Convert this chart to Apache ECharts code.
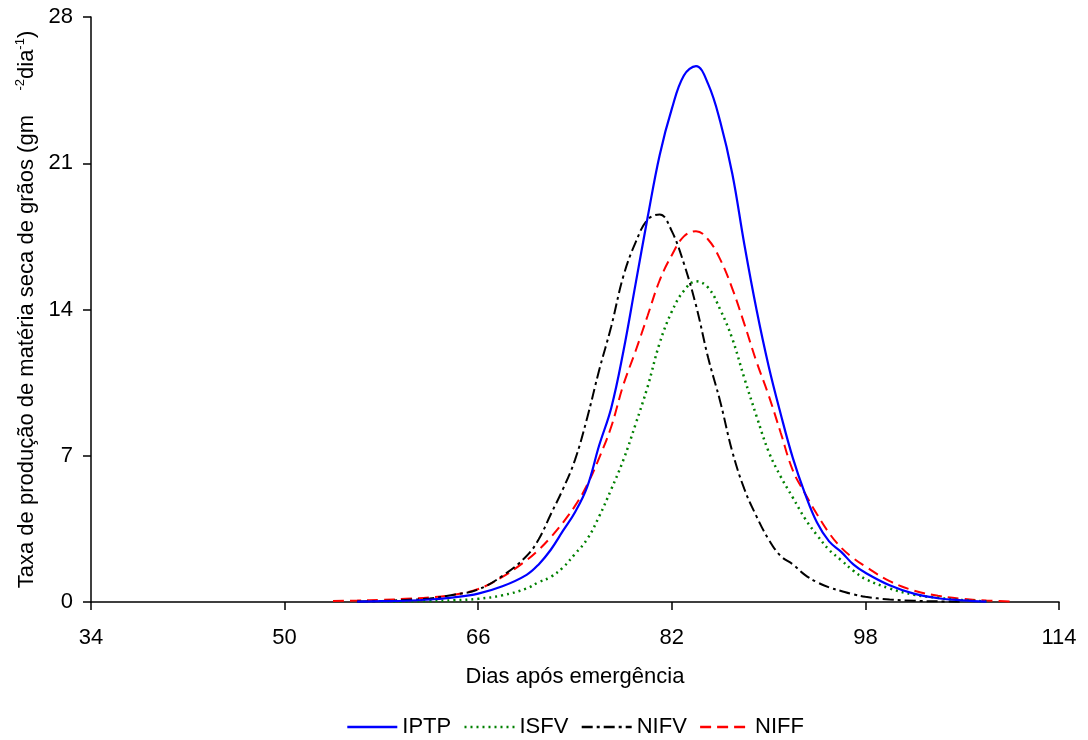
<!DOCTYPE html>
<html>
<head>
<meta charset="utf-8">
<script src="https://cdn.jsdelivr.net/npm/echarts@6/dist/echarts.min.js"></script>
<style>
html,body{margin:0;padding:0;background:#fff;}
#chart{width:1088px;height:740px;}
</style>
</head>
<body>
<div id="chart"></div>
<script>
// ---- data ----
var days = [54,56,58,60,62,64,66,68,70,71,72,73,74,75,76,77,78,79,80,81,82,83,84,85,86,87,88,89,90,91,92,93,94,95,96,97,98,100,102,104,106,108,110];
var IPTP = [null,0.02,0.04,0.06,0.12,0.22,0.4,0.75,1.3,1.8,2.5,3.4,4.3,5.5,7.5,9.3,12.0,15.2,18.4,21.4,23.6,25.2,25.65,24.8,23.0,20.5,17.1,14.0,11.3,9.0,6.9,5.2,3.8,2.9,2.4,1.8,1.4,0.8,0.4,0.18,0.08,0.02,null];
var ISFV = [null,null,0.02,0.03,0.05,0.08,0.15,0.32,0.65,0.95,1.2,1.65,2.3,3.0,4.1,5.4,6.8,8.5,10.3,12.4,13.9,14.9,15.35,15.05,14.0,12.6,10.7,8.9,7.2,6.0,5.0,4.0,3.2,2.5,2.0,1.5,1.1,0.65,0.35,0.2,0.09,0.03,null];
var NIFV = [null,0.02,0.05,0.1,0.17,0.35,0.6,1.25,2.2,3.0,4.2,5.4,6.8,8.8,11.1,13.2,15.6,17.2,18.3,18.55,17.75,16.2,14.2,11.7,9.6,7.2,5.4,4.1,3.0,2.2,1.8,1.3,0.95,0.7,0.53,0.37,0.25,0.12,0.06,0.03,0.01,null,null];
var NIFF = [0.05,0.07,0.1,0.15,0.22,0.35,0.62,1.2,2.0,2.5,3.1,3.8,4.6,5.6,6.9,8.4,10.4,12.0,13.7,15.4,16.6,17.5,17.75,17.35,16.4,15.0,13.3,11.5,9.9,8.1,6.3,5.2,4.2,3.3,2.6,2.1,1.7,1.0,0.55,0.3,0.15,0.07,0.02];
var xTicks = [34,50,66,82,98,114];
var yTicks = [0,7,14,21,28];
var seriesNames = ['IPTP','ISFV','NIFV','NIFF'];

function pairs(vals){
  var out = [];
  for (var i = 0; i < days.length; i++) {
    if (vals[i] !== null) out.push([days[i], vals[i]]);
  }
  return out;
}

var FONT = '"Liberation Sans", Arial, sans-serif';
var chart = echarts.init(document.getElementById('chart'), null, {renderer:'canvas'});

var styles = [
  {color:'#0000ff', width:2.2, type:'solid'},
  {color:'#008000', width:2.5, type:[2,4]},
  {color:'#000000', width:2, type:[11,4,3,4]},
  {color:'#ff0000', width:2, type:[11,6]}
];
var allVals = [IPTP, ISFV, NIFV, NIFF];

var series = seriesNames.map(function(n, i){
  return {
    name: n,
    type: 'line',
    data: pairs(allVals[i]),
    showSymbol: false,
    symbol: 'none',
    smooth: 0.4,
    lineStyle: styles[i],
    itemStyle: {color: styles[i].color},
    z: 4 - i
  };
});

chart.setOption({
  animation: false,
  backgroundColor: '#ffffff',
  textStyle: {fontFamily: FONT, color: '#000'},
  grid: {left: 91, right: 29, top: 17, bottom: 138, containLabel: false},
  legend: {
    show: true,
    data: seriesNames,
    top: 711,
    left: 341,
    itemWidth: 50,
    itemHeight: 14,
    itemGap: 12,
    itemStyle: {opacity: 0},
    lineStyle: {width: 2.6},
    textStyle: {fontFamily: FONT, fontSize: 22, color: '#000'}
  },
  xAxis: {
    type: 'value',
    min: 34, max: 114,
    name: 'Dias após emergência',
    nameLocation: 'middle',
    nameGap: 64,
    nameTextStyle: {fontFamily: FONT, fontSize: 22, color: '#000'},
    axisLine: {show: true, onZero: false, lineStyle: {color: '#000', width: 1.5}},
    axisTick: {show: true, length: 8, inside: false, customValues: xTicks, lineStyle: {color: '#000', width: 1.5}},
    axisLabel: {customValues: xTicks, margin: 25, fontFamily: FONT, fontSize: 22, color: '#000'},
    splitLine: {show: false}
  },
  yAxis: {
    type: 'value',
    min: 0, max: 28, interval: 7,
    name: '{n|Taxa de produção de matéria seca de grãos (gm    }{s|-2}{n|dia}{s|-1}{n|)}',
    nameLocation: 'middle',
    nameGap: 52,
    nameRotate: 90,
    nameTextStyle: {
      fontFamily: FONT, fontSize: 22, color: '#000',
      rich: {
        n: {fontFamily: FONT, fontSize: 22, color: '#000', lineHeight: 24, verticalAlign: 'bottom'},
        s: {fontFamily: FONT, fontSize: 13, color: '#000', lineHeight: 24, verticalAlign: 'top', padding: [0,0,8,0]}
      }
    },
    axisLine: {show: true, lineStyle: {color: '#000', width: 1.5}},
    axisTick: {show: true, length: 8, inside: false, lineStyle: {color: '#000', width: 1.5}},
    axisLabel: {margin: 18, fontFamily: FONT, fontSize: 22, color: '#000'},
    splitLine: {show: false}
  },
  series: series
});
</script>
</body>
</html>
